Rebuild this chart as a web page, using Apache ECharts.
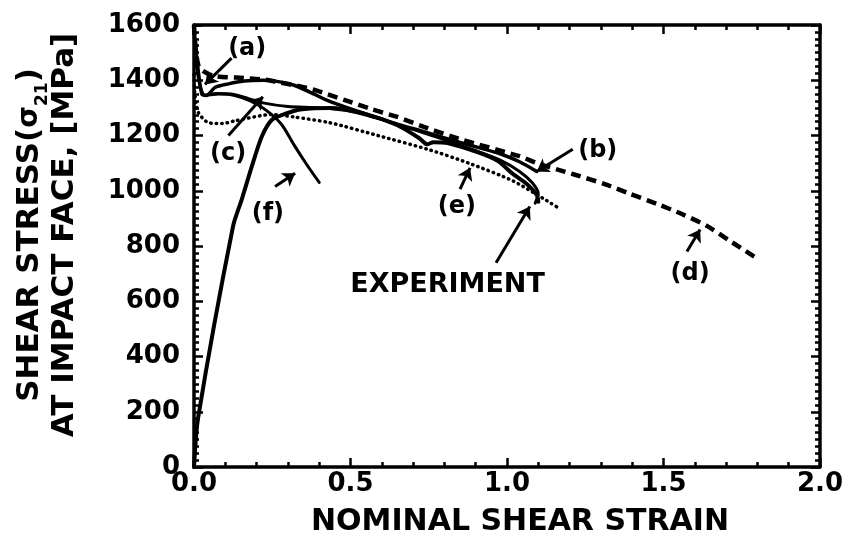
<!DOCTYPE html>
<html><head><meta charset="utf-8">
<script src="https://cdn.jsdelivr.net/npm/echarts@6/dist/echarts.min.js"></script>
<style>html,body{margin:0;padding:0;background:#fff}#c{width:849px;height:537px}</style>
</head><body><div id="c"></div>
<script>
// ---- data (strain, shear stress MPa) ----
const xTickLabels = ['0.0', '0.5', '1.0', '1.5', '2.0'];
const yTickLabels = ['0', '200', '400', '600', '800', '1000', '1200', '1400', '1600'];

const curveB = [[0.0,1590],[0.01,1470],[0.025,1350],[0.04,1345],[0.067,1374],[0.11,1387],[0.16,1397],[0.22,1400],[0.27,1395],[0.32,1382],[0.37,1357],[0.43,1325],[0.53,1285],[0.64,1245],[0.74,1212],[0.85,1175],[0.91,1156],[0.98,1133],[1.04,1105],[1.095,1070]];
const curveC = [[0.035,1345],[0.07,1352],[0.12,1350],[0.17,1335],[0.22,1318],[0.3,1305],[0.4,1300],[0.5,1288],[0.6,1258],[0.7,1222],[0.8,1185],[0.9,1145],[0.98,1110],[1.04,1070],[1.08,1030],[1.1,990],[1.09,955]];
const curveD = [[0.0,1600],[0.015,1450],[0.06,1417],[0.16,1408],[0.22,1403],[0.26,1395],[0.35,1375],[0.39,1363],[0.48,1329],[0.56,1298],[0.65,1267],[0.73,1233],[0.82,1198],[0.86,1183],[1.04,1125],[1.10,1098],[1.17,1074],[1.22,1057],[1.31,1025],[1.39,990],[1.48,952],[1.56,915],[1.64,872],[1.71,820],[1.80,754]];
const curveE = [[0.0,1420],[0.003,1346],[0.013,1285],[0.045,1247],[0.09,1243],[0.13,1253],[0.25,1276],[0.32,1267],[0.435,1246],[0.59,1199],[0.75,1149],[0.88,1099],[1.02,1035],[1.16,941]];
const curveF = [[0.0,1570],[0.015,1400],[0.035,1345],[0.08,1350],[0.13,1345],[0.18,1325],[0.23,1292],[0.28,1240],[0.32,1165],[0.36,1095],[0.40,1030]];
const curveExp = [[0.0,0],[0.013,177],[0.125,873],[0.153,970],[0.185,1089],[0.217,1197],[0.249,1257],[0.29,1278],[0.345,1295],[0.435,1300],[0.54,1280],[0.65,1237],[0.72,1190],[0.745,1168],[0.765,1176],[0.81,1173],[0.91,1138],[0.97,1108],[1.02,1060],[1.065,1023],[1.095,985],[1.10,960]];

const annoLabels = ['(a)', '(b)', '(c)', '(d)', '(e)', '(f)', 'EXPERIMENT'];
const annoLabelPos = [[0.17,1513],[1.29,1145],[0.109,1134],[1.585,700],[0.84,941],[0.236,918],[0.81,659]];
const annoArrowFrom = [[0.12,1480],[1.21,1150],[0.11,1200],[1.575,780],[0.85,1006],[0.259,1015],[0.965,739]];
const annoArrowTo = [[0.035,1385],[1.095,1070],[0.22,1340],[1.617,860],[0.882,1083],[0.323,1063],[1.073,943]];

// ---- chart ----
const FONT = 'DejaVu Sans';
const chart = echarts.init(document.getElementById('c'), null, {renderer: 'canvas'});
const baseAxisLine = {show: true, onZero: false, lineStyle: {color: '#000', width: 3.5}};
const tickStyle = {color: '#000', width: 2.5};

function lineSeries(name, data, style) {
  return {name, type: 'line', data, showSymbol: false, smooth: 0.25, silent: true,
    lineStyle: Object.assign({color: '#000', width: 3, cap: 'round', join: 'round'}, style), z: 3};
}

const option = {
  animation: false,
  backgroundColor: '#fff',
  grid: {left: 194, right: 29, top: 25, bottom: 70, containLabel: false, outerBoundsMode: 'none'},
  xAxis: [{
    type: 'value', min: 0, max: 2, interval: 0.5, position: 'bottom',
    axisLine: baseAxisLine,
    axisTick: {show: true, inside: true, length: 9, lineStyle: tickStyle},
    minorTick: {show: true, splitNumber: 5, length: 5, lineStyle: tickStyle},
    splitLine: {show: false},
    axisLabel: {color: '#000', fontFamily: FONT, fontWeight: 'bold', fontSize: 26, margin: 4,
      formatter: v => xTickLabels[Math.round(v / 0.5)]},
    name: 'NOMINAL SHEAR STRAIN', nameLocation: 'middle', nameGap: 40,
    nameTextStyle: {color: '#000', fontFamily: FONT, fontWeight: 'bold', fontSize: 30, padding: [0, 0, 0, 26]}
  }, {
    type: 'value', min: 0, max: 2, interval: 0.5, position: 'top',
    axisLine: baseAxisLine,
    axisTick: {show: true, inside: true, length: 9, lineStyle: tickStyle},
    minorTick: {show: true, splitNumber: 5, length: 5, lineStyle: tickStyle},
    splitLine: {show: false}, axisLabel: {show: false}
  }],
  yAxis: [{
    type: 'value', min: 0, max: 1600, interval: 200, position: 'left',
    axisLine: baseAxisLine,
    axisTick: {show: true, inside: true, length: 9, lineStyle: tickStyle},
    minorTick: {show: true, splitNumber: 8, length: 5, lineStyle: tickStyle},
    splitLine: {show: false},
    axisLabel: {color: '#000', fontFamily: FONT, fontWeight: 'bold', fontSize: 26, margin: 14,
      formatter: v => yTickLabels[Math.round(v / 200)]},
    name: 'SHEAR STRESS({s|σ}{sub|21})\nAT IMPACT FACE, [MPa]',
    nameLocation: 'middle', nameRotate: 90, nameGap: 112,
    nameTextStyle: {color: '#000', fontFamily: FONT, fontWeight: 'bold', fontSize: 31, lineHeight: 35,
      padding: [0, 0, 0, 22],
      rich: {
        s: {fontFamily: FONT, fontWeight: 'bold', fontSize: 28, color: '#000'},
        sub: {fontFamily: FONT, fontWeight: 'bold', fontSize: 17, color: '#000', verticalAlign: 'bottom', padding: [0, 0, -4, 0]}
      }}
  }, {
    type: 'value', min: 0, max: 1600, interval: 200, position: 'right',
    axisLine: baseAxisLine,
    axisTick: {show: true, inside: true, length: 9, lineStyle: tickStyle},
    minorTick: {show: true, splitNumber: 8, length: 5, lineStyle: tickStyle},
    splitLine: {show: false}, axisLabel: {show: false}
  }],
  series: [
    lineSeries('d', curveD, {type: [10, 6], width: 4.5, cap: 'butt'}),
    lineSeries('e', curveE, {type: [0.5, 5], width: 3.5}),
    lineSeries('b', curveB, {width: 3.5}),
    lineSeries('c', curveC, {width: 3}),
    lineSeries('f', curveF, {width: 3}),
    lineSeries('experiment', curveExp, {width: 4}),
    {
      type: 'lines', coordinateSystem: 'cartesian2d', silent: true, z: 4,
      symbol: ['none', 'arrow'], symbolSize: [0, 12],
      lineStyle: {color: '#000', width: 3, opacity: 1},
      data: annoArrowFrom.map((p, i) => ({coords: [p, annoArrowTo[i]]}))
    },
    {
      type: 'scatter', silent: true, symbolSize: 0, z: 5,
      itemStyle: {opacity: 1},
      data: annoLabels.map((n, i) => ({name: n, value: annoLabelPos[i]})),
      label: {show: true, position: 'inside', formatter: '{b}', color: '#000', opacity: 1,
        fontFamily: FONT, fontWeight: 'bold', fontSize: 24}
    }
  ]
};
option.series[7].data[6].label = {fontSize: 27};
chart.setOption(option);
</script>
</body></html>
